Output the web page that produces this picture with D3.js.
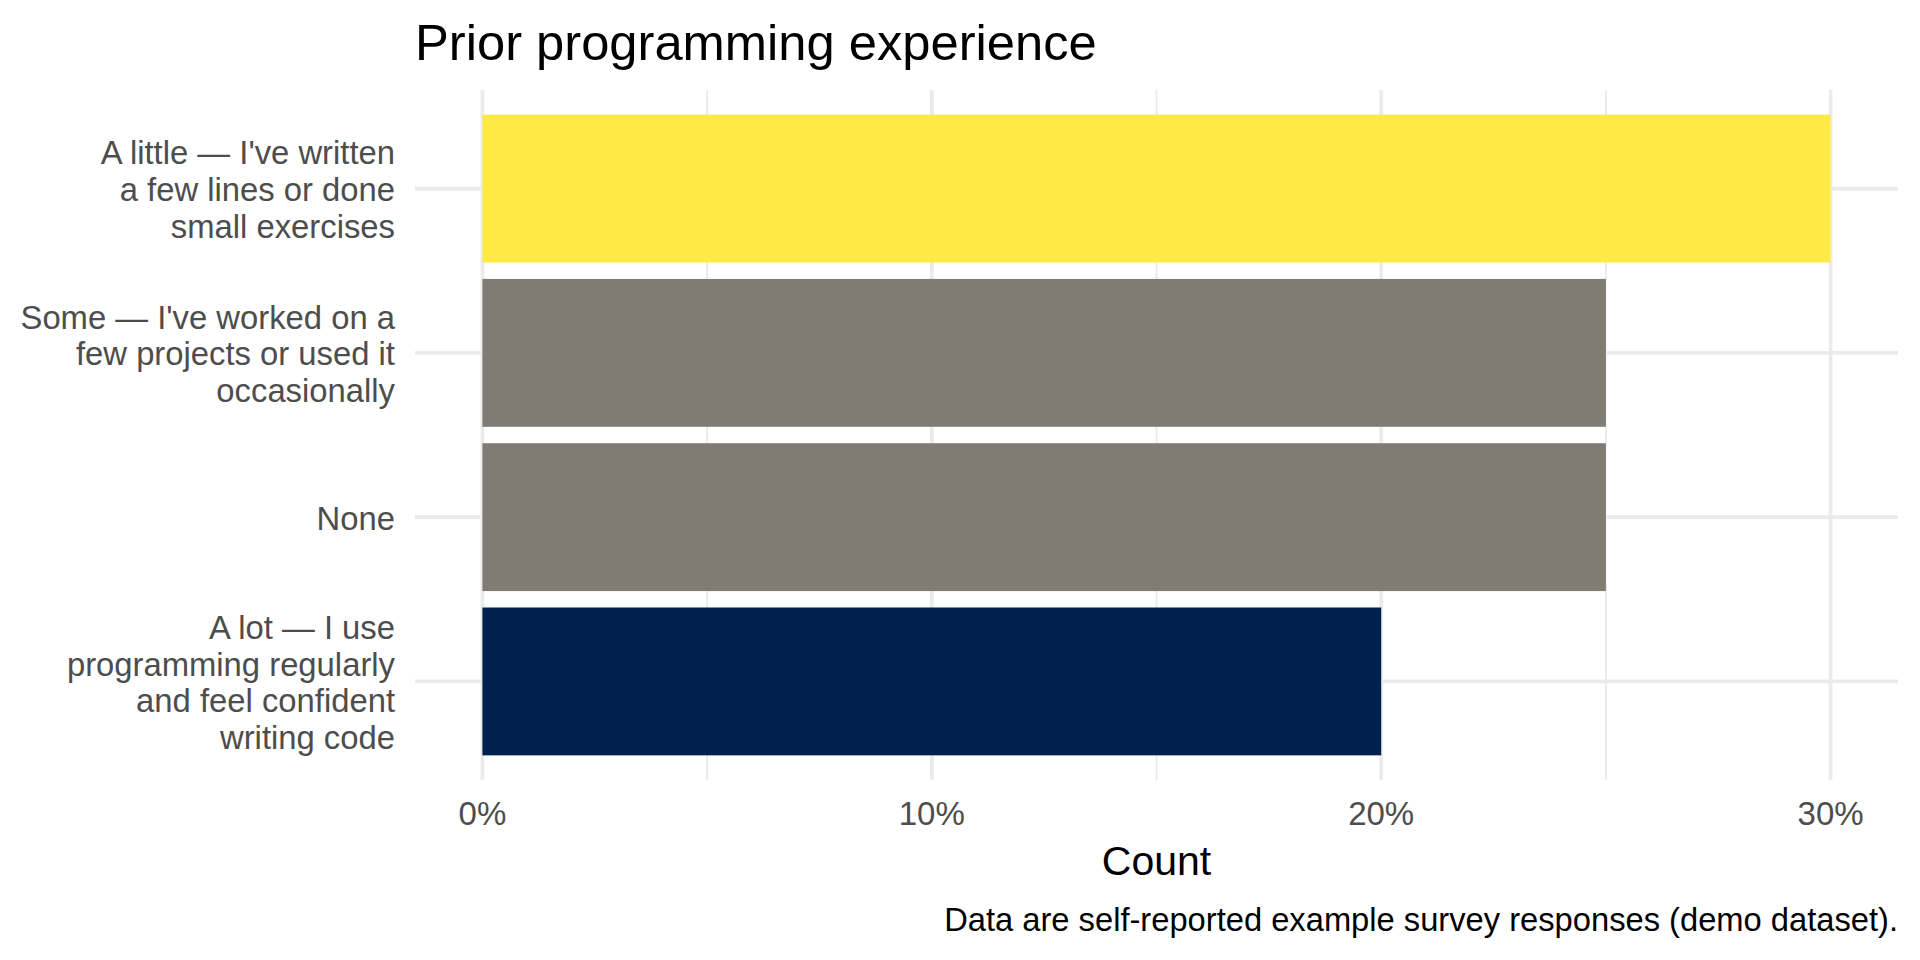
<!DOCTYPE html>
<html>
<head>
<meta charset="utf-8">
<script src="https://cdn.jsdelivr.net/npm/d3@7/dist/d3.min.js"></script>
<style>
  html, body { margin: 0; padding: 0; background: #ffffff; }
  svg { display: block; }
  text { font-family: "Liberation Sans", Arial, Helvetica, sans-serif; }
</style>
</head>
<body>
<svg id="chart" width="1920" height="960"></svg>
<script>
// ---- data ----
const categories = [
  "A little — I've written a few lines or done small exercises",
  "Some — I've worked on a few projects or used it occasionally",
  "None",
  "A lot — I use programming regularly and feel confident writing code"
];
const labelLines = [
  ["A little — I've written", "a few lines or done", "small exercises"],
  ["Some — I've worked on a", "few projects or used it", "occasionally"],
  ["None"],
  ["A lot — I use", "programming regularly", "and feel confident", "writing code"]
];
const values = [30, 25, 25, 20];            // percent of respondents
const palette = ["#FFE945", "#7F7C74", "#7F7C74", "#00204D"];
const xTicks = [0, 10, 20, 30];
const xMinorTicks = [5, 15, 25];
const titleText = "Prior programming experience";
const xTitle = "Count";
const captionText = "Data are self-reported example survey responses (demo dataset).";

// ---- layout ----
const W = 1920, H = 960;
const panel = { left: 415, right: 1898, top: 90, bottom: 780 };
const svg = d3.select("#chart");
svg.append("rect").attr("width", W).attr("height", H).attr("fill", "#ffffff");

const xMin = 0, xMax = d3.max(values);
const ext = (xMax - xMin) * 0.05;
const x = d3.scaleLinear().domain([xMin - ext, xMax + ext]).range([panel.left, panel.right]);
const y = d3.scalePoint().domain(categories).range([panel.top, panel.bottom]).padding(0.6);
const barH = y.step() * 0.9;
const color = d3.scaleOrdinal().domain(categories).range(palette);

const grid = svg.append("g");
// minor vertical
grid.selectAll("line.minor").data(xMinorTicks).join("line")
  .attr("x1", d => x(d)).attr("x2", d => x(d))
  .attr("y1", panel.top).attr("y2", panel.bottom)
  .attr("stroke", "#EBEBEB").attr("stroke-width", 1.9);
// major vertical
grid.selectAll("line.majorx").data(xTicks).join("line")
  .attr("x1", d => x(d)).attr("x2", d => x(d))
  .attr("y1", panel.top).attr("y2", panel.bottom)
  .attr("stroke", "#EBEBEB").attr("stroke-width", 3.7);
// major horizontal
grid.selectAll("line.majory").data(categories).join("line")
  .attr("x1", panel.left).attr("x2", panel.right)
  .attr("y1", d => y(d)).attr("y2", d => y(d))
  .attr("stroke", "#EBEBEB").attr("stroke-width", 3.7);

// bars
svg.append("g").selectAll("rect").data(categories).join("rect")
  .attr("x", x(0))
  .attr("y", d => y(d) - barH / 2)
  .attr("width", (d, i) => x(values[i]) - x(0))
  .attr("height", barH)
  .attr("fill", d => color(d));

// y tick labels
const lineGap = 36.6;
const yl = svg.append("g");
categories.forEach((c, i) => {
  const lines = labelLines[i];
  const first = y(c) - (lines.length - 1) / 2 * lineGap + 12.5;
  const t = yl.append("text")
    .attr("text-anchor", "end")
    .attr("font-size", 32.8)
    .attr("fill", "#4D4D4D");
  lines.forEach((ln, j) => {
    t.append("tspan").attr("x", 395).attr("y", first + j * lineGap).text(ln);
  });
});

// x tick labels
svg.append("g").selectAll("text").data(xTicks).join("text")
  .attr("x", d => x(d)).attr("y", 825)
  .attr("text-anchor", "middle")
  .attr("font-size", 33)
  .attr("fill", "#4D4D4D")
  .text(d => d3.format(".0%")(d / 100));

// axis title
svg.append("text")
  .attr("x", (panel.left + panel.right) / 2).attr("y", 875)
  .attr("text-anchor", "middle")
  .attr("font-size", 41)
  .attr("fill", "#000000")
  .text(xTitle);

// title
svg.append("text")
  .attr("x", panel.left).attr("y", 60)
  .attr("font-size", 50.7)
  .attr("fill", "#000000")
  .text(titleText);

// caption
svg.append("text")
  .attr("x", panel.right).attr("y", 931)
  .attr("text-anchor", "end")
  .attr("font-size", 32.7)
  .attr("fill", "#000000")
  .text(captionText);
</script>
</body>
</html>
